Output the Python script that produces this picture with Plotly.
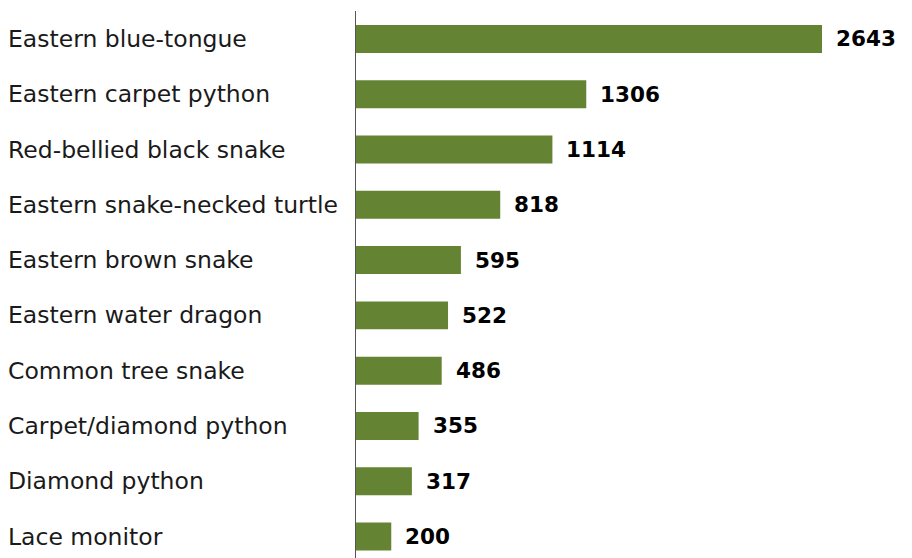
import plotly.graph_objects as go

species = ["Eastern blue-tongue", "Eastern carpet python", "Red-bellied black snake",
           "Eastern snake-necked turtle", "Eastern brown snake", "Eastern water dragon",
           "Common tree snake", "Carpet/diamond python", "Diamond python", "Lace monitor"]
counts = [2643, 1306, 1114, 818, 595, 522, 486, 355, 317, 200]

# page body has an 8px offset in the browser
off = 8
W, H = 912 - off, 558 - off
left, top = 356 - off, 11 - off
plot_w = W - left
xmax = plot_w / (466 / 2643)

fig = go.Figure(go.Bar(
    x=counts, y=list(range(len(species))), orientation="h",
    marker=dict(color="#648434", line=dict(width=0)), width=0.506,
    hoverinfo="skip",
))

ann = []
for i, (s, c) in enumerate(zip(species, counts)):
    ann.append(dict(x=-left / plot_w, xref="paper", y=i, yref="y", text=s,
                    xanchor="left", yanchor="middle", showarrow=False, xshift=-2,
                    font=dict(family="DejaVu Sans", size=23.5, color="#1a1a1a")))
    ann.append(dict(x=c, xref="x", y=i, yref="y", text="<b>%d</b>" % c,
                    xanchor="left", yanchor="middle", showarrow=False, xshift=12,
                    font=dict(family="DejaVu Sans", size=21.5, color="#000000")))

fig.update_layout(
    width=W, height=H, margin=dict(l=left, r=0, t=top, b=0),
    paper_bgcolor="white", plot_bgcolor="white", showlegend=False,
    xaxis=dict(range=[0, xmax], visible=False, fixedrange=True),
    yaxis=dict(range=[9.389, -0.506], showticklabels=False, showgrid=False,
               zeroline=False, showline=True, linecolor="#555555", linewidth=1,
               ticks="", fixedrange=True),
    annotations=ann,
)
fig.write_html("out.html")
